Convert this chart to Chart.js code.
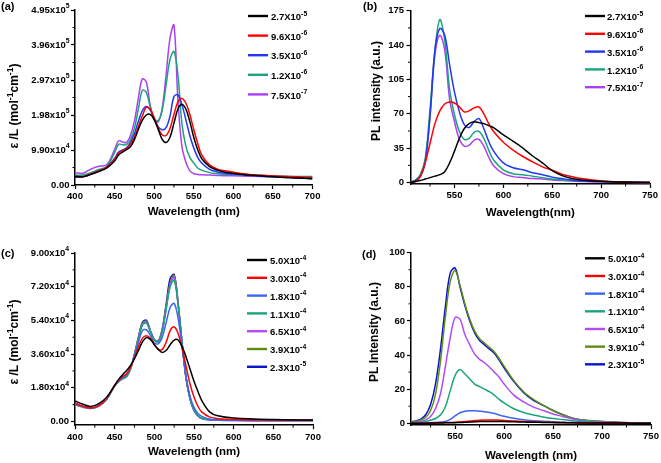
<!DOCTYPE html>
<html><head><meta charset="utf-8">
<script src="https://cdn.jsdelivr.net/npm/chart.js@4.4.1/dist/chart.umd.min.js"></script>
<style>
html,body{margin:0;padding:0;background:#fff;}
body{width:661px;height:463px;position:relative;overflow:hidden;}
canvas{position:absolute;}
</style></head><body>
<canvas id="ca" width="330" height="230" style="left:0;top:0"></canvas>
<canvas id="cb" width="331" height="230" style="left:330px;top:0"></canvas>
<canvas id="cc" width="330" height="233" style="left:0;top:230px"></canvas>
<canvas id="cd" width="331" height="233" style="left:330px;top:230px"></canvas>
<script>
// Text in {braces} is drawn as a superscript.
// ---------- Panel (a): absorption, values in 10^3 mol^-1 cm^-1 ----------
const wlA = [400,410,420,430,440,450,455,460,465,470,475,480,485,490,495,500,505,510,515,520,525,530,535,540,545,550,555,560,570,580,590,600,620,640,660,680,700];
const absA1 = [25,23,30,38,48,68,85,93,100,108,128,157,183,198,200,185,158,130,120,135,175,215,228,215,180,135,100,75,52,42,36,33,28,25,22,20,18];
const absA2 = [24,24,31,40,50,72,90,97,103,115,135,165,195,220,215,190,162,142,140,160,200,235,245,232,200,157,118,85,57,45,40,36,30,27,25,23,21];
const absA3 = [22,23,30,40,50,75,93,99,105,120,145,180,210,222,212,188,165,156,162,195,250,255,228,185,140,105,78,62,44,37,33,31,27,24,22,20,18];
const absA4 = [28,28,35,44,52,92,115,114,114,128,160,215,268,262,222,188,182,210,282,355,378,312,175,110,78,62,48,42,35,32,30,30,28,27,25,24,24];
const absA5 = [35,33,45,53,57,100,125,122,120,140,180,245,300,292,225,185,178,215,310,415,452,240,110,65,40,32,30,29,28,27,26,26,25,24,24,23,22];
const legendAB = ['2.7X10{-5}','9.6X10{-6}','3.5X10{-6}','1.2X10{-6}','7.5X10{-7}'];
const colorsAB = ['#000000','#ff0000','#2336f2','#1aa37c','#ab40f2'];
const xTicksA = [400,450,500,550,600,650,700];
const yTicksA = [0,99,198,297,396,495];
const yLabelsA = ['0.00','9.90x10{4}','1.98x10{5}','2.97x10{5}','3.96x10{5}','4.95x10{5}'];

// ---------- Panel (b): PL ----------
const wlB = [505,510,515,520,525,530,535,540,545,550,555,560,565,570,575,580,585,590,600,610,620,630,640,650,660,670,680,700,720,750];
const plB1 = [0,1,2,3.5,5,6.5,8,11,20,32,45,55,60,62,61,60,58,56,48.5,42,35,27,20,12,7,4,2.5,1.2,0.5,0];
const plB2 = [0,1,6,20,40,60,73,80,82,81,77,72,73,76,77,70,60,52,41,33,26.5,21,16,12.5,8.5,6,4,1.5,0.5,0];
const plB3 = [0.5,2,6,20,68,135,157,150,120,92,72,59,56,62,65,55,42,32,20,15,13,10,8,5.5,4,2.5,1.5,1,0.5,0];
const plB4 = [0.5,2.5,8,24,75,135,166,145,95,69,52,44,45,51,52,45,33,23,13,9,8,6.5,5,3.5,2.5,2,1.5,1,0.5,0];
const plB5 = [0.5,2,7,22,68,130,150,135,85,62,44,37,38,43,44,37,26,17,9,6,5,4,3.5,2.5,2,1.5,1,0.5,0.3,0];
const xTicksB = [550,600,650,700,750];
const yTicksB = [0,35,70,105,140,175];
const yLabelsB = ['0','35','70','105','140','175'];

// ---------- Panel (c): absorption, values in 10^4 ----------
const wlC = [400,410,420,430,440,450,455,460,465,470,475,480,485,490,495,500,505,510,515,520,525,530,535,540,545,550,555,560,570,580,600,650,700];
const absC1 = [1.09,0.92,0.8,0.95,1.3,1.93,2.25,2.5,2.72,3.0,3.35,3.8,4.25,4.48,4.38,4.1,3.85,3.68,3.8,4.1,4.35,4.35,4.0,3.45,2.8,2.15,1.6,1.1,0.5,0.3,0.18,0.1,0.08];
const absC2 = [0.98,0.82,0.72,0.85,1.25,1.93,2.2,2.4,2.55,2.9,3.4,4.0,4.45,4.58,4.45,4.12,3.85,3.85,4.25,4.85,5.05,4.7,3.9,2.95,2.0,1.3,0.8,0.5,0.23,0.15,0.1,0.08,0.06];
const absC3 = [0.95,0.8,0.72,0.85,1.22,1.93,2.2,2.35,2.5,2.9,3.5,4.25,4.85,4.9,4.6,4.2,4.15,4.5,5.3,6.1,6.3,5.5,4.0,2.4,1.35,0.75,0.42,0.27,0.12,0.08,0.06,0.05,0.05];
const absC4 = [0.93,0.78,0.7,0.83,1.2,1.9,2.15,2.3,2.4,2.8,3.55,4.4,5.15,5.25,4.8,4.35,4.25,4.8,6.0,7.2,7.55,6.2,4.2,2.35,1.25,0.62,0.32,0.17,0.1,0.07,0.06,0.05,0.05];
const absC5 = [0.92,0.77,0.7,0.82,1.2,1.9,2.13,2.28,2.4,2.8,3.57,4.45,5.2,5.3,4.82,4.37,4.27,4.85,6.1,7.3,7.7,6.25,4.2,2.33,1.23,0.6,0.31,0.16,0.09,0.07,0.06,0.05,0.05];
const absC6 = [0.9,0.76,0.69,0.82,1.2,1.9,2.13,2.28,2.4,2.82,3.6,4.5,5.25,5.35,4.85,4.38,4.28,4.9,6.2,7.4,7.8,6.3,4.2,2.32,1.22,0.6,0.3,0.16,0.09,0.07,0.06,0.05,0.05];
const absC7 = [0.98,0.8,0.72,0.85,1.2,1.93,2.15,2.3,2.42,2.85,3.6,4.5,5.3,5.4,4.85,4.37,4.3,4.95,6.3,7.65,7.85,6.3,4.15,2.3,1.2,0.58,0.3,0.15,0.09,0.06,0.05,0.05,0.05];
const legendCD = ['5.0X10{-4}','3.0X10{-4}','1.8X10{-4}','1.1X10{-4}','6.5X10{-4}','3.9X10{-4}','2.3X10{-5}'];
const colorsCD = ['#000000','#ff0000','#3a66f2','#1aa37c','#b24cf5','#5e8c14','#0a14cc'];
const xTicksC = [400,450,500,550,600,650,700];
const yTicksC = [0,1.8,3.6,5.4,7.2,9.0];
const yLabelsC = ['0.00','1.80x10{4}','3.60x10{4}','5.40x10{4}','7.20x10{4}','9.00x10{4}'];

// ---------- Panel (d): PL ----------
const wlD = [505,510,515,520,525,530,535,540,545,550,555,560,565,570,575,580,585,590,595,600,610,620,630,640,650,660,670,680,700,720,750];
const plD1 = [0,0,0,0.05,0.1,0.15,0.2,0.25,0.3,0.35,0.45,0.6,0.75,0.9,1.0,1.1,1.1,1.1,1.05,1.0,0.85,0.7,0.6,0.5,0.4,0.3,0.25,0.2,0.15,0.1,0];
const plD2 = [0,0,0.05,0.1,0.15,0.2,0.3,0.4,0.5,0.6,0.8,1.0,1.3,1.6,1.8,1.95,2.0,1.95,1.85,1.7,1.4,1.1,0.85,0.65,0.5,0.4,0.3,0.25,0.15,0.1,0];
const plD3 = [0.1,0.1,0.15,0.2,0.3,0.45,0.7,1.1,2.3,4.3,6.2,7.1,7.4,7.35,7.1,6.8,6.3,5.7,4.9,4.1,2.9,2.1,1.55,1.15,0.85,0.6,0.45,0.35,0.2,0.1,0.05];
const plD4 = [0.2,0.3,0.6,1,1.8,2.8,4.8,9.5,19,28,31.5,29,26,23,21.5,20,18.5,16.5,14,12,8.5,6.3,4.8,3.7,2.8,2.2,1.5,1,0.5,0.3,0.1];
const plD5 = [0.3,0.6,1.2,2,4,8.5,17,33,50,62,61,52,46,40.5,37.5,35.5,33,30,27,23,16.5,12.5,9.5,7.5,5.5,4,2.5,1.5,0.7,0.3,0.1];
const plD6 = [0.7,1.1,2,3.5,7.5,17,36,62,83,89.5,81,70,61,54,49.5,47,44.5,42,38,33.5,25,18.5,14,10.5,7.5,5,3,2,1,0.5,0.2];
const plD7 = [0.8,1.4,2.5,5,11,23,43,68,88,91,80,69,60,53,48.5,46,43.5,41,37,32.5,24.5,18,13.5,10.5,7.5,5,3,2,1,0.5,0.2];
const xTicksD = [550,600,650,700,750];
const yTicksD = [0,20,40,60,80,100];
const yLabelsD = ['0','20','40','60','80','100'];

const FF = '"Liberation Sans", Arial, Helvetica, sans-serif';

function parseRich(str) {
  const segs = [];
  const re = /\{([^}]*)\}/g;
  let last = 0, m;
  while ((m = re.exec(str)) !== null) {
    if (m.index > last) segs.push({t: str.slice(last, m.index), sup: false});
    segs.push({t: m[1], sup: true});
    last = re.lastIndex;
  }
  if (last < str.length) segs.push({t: str.slice(last), sup: false});
  return segs;
}
function richFont(size, sup) { return 'bold ' + (sup ? size * 0.72 : size) + 'px ' + FF; }
function richWidth(ctx, str, size) {
  let w = 0;
  parseRich(str).forEach(s => { ctx.font = richFont(size, s.sup); w += ctx.measureText(s.t).width; });
  return w;
}
// align: 'left' | 'right' | 'center'; y is the middle of the base text
function drawRich(ctx, str, size, x, y, align) {
  const w = richWidth(ctx, str, size);
  let cx = align === 'right' ? x - w : align === 'center' ? x - w / 2 : x;
  ctx.textAlign = 'left'; ctx.textBaseline = 'middle';
  parseRich(str).forEach(s => {
    ctx.font = richFont(size, s.sup);
    ctx.fillText(s.t, cx, s.sup ? y - size * 0.4 : y);
    cx += ctx.measureText(s.t).width;
  });
}
const hasRich = s => s.indexOf('{') >= 0;

function minorsOf(ticks, lo, hi) {
  const out = [];
  const step = ticks[1] - ticks[0];
  const first = ticks[0] - step / 2;
  if (first >= lo) out.push(first);
  for (let i = 0; i < ticks.length - 1; i++) out.push((ticks[i] + ticks[i + 1]) / 2);
  const last = ticks[ticks.length - 1] + step / 2;
  if (last <= hi) out.push(last);
  return out;
}

function build(id, P) {
  const cv = document.getElementById(id);
  const W = cv.width, H = cv.height;
  const TS = 9.5;
  const datasets = P.series.map((s, i) => ({
    label: P.labels[i].replace(/[{}]/g, ''),
    data: s.map((v, j) => ({x: P.x[j], y: v})),
    borderColor: P.colors[i], backgroundColor: P.colors[i],
    borderWidth: 1.5, pointRadius: 0, tension: 0.35, fill: false
  }));
  const tickFont = {family: FF, size: TS, weight: 'bold'};
  const decor = {
    id: 'decor_' + id,
    afterDraw(chart) {
      const ctx = chart.ctx, ca = chart.chartArea;
      const xs = chart.scales.x, ys = chart.scales.y;
      ctx.save();
      ctx.strokeStyle = '#000'; ctx.lineWidth = 1;
      ctx.beginPath();
      minorsOf(P.xTicks, P.xMin, P.xMax).forEach(v => {
        const px = xs.getPixelForValue(v);
        ctx.moveTo(px, ca.bottom); ctx.lineTo(px, ca.bottom + 2.5);
      });
      minorsOf(P.yTicks, P.yMin, P.yMax).forEach(v => {
        const py = ys.getPixelForValue(v);
        ctx.moveTo(ca.left, py); ctx.lineTo(ca.left - 2.5, py);
      });
      ctx.stroke();
      ctx.fillStyle = '#000';
      // y tick labels with superscripts
      P.yTicks.forEach((v, i) => {
        if (hasRich(P.yLabels[i])) drawRich(ctx, P.yLabels[i], TS, ca.left - 4 - P.yPad, ys.getPixelForValue(v), 'right');
      });
      // legend
      P.labels.forEach((lab, i) => {
        const y = P.leg.y0 + i * P.leg.dy;
        ctx.strokeStyle = P.colors[i]; ctx.lineWidth = 2.4;
        ctx.beginPath(); ctx.moveTo(P.leg.x1, y); ctx.lineTo(P.leg.x2, y); ctx.stroke();
        ctx.fillStyle = '#000';
        drawRich(ctx, lab, 9.5, P.leg.tx, y + 1.5, 'left');
      });
      // panel tag
      ctx.fillStyle = '#000';
      ctx.font = 'bold 11px ' + FF;
      ctx.textAlign = 'left'; ctx.textBaseline = 'middle';
      ctx.fillText(P.tag, P.tagX, P.tagY);
      // y title
      ctx.translate(P.yt.x, P.yt.y);
      ctx.rotate(-Math.PI / 2);
      drawRich(ctx, P.yTitle, P.yt.size, 0, 0, 'center');
      ctx.restore();
    }
  };
  new Chart(cv, {
    type: 'line',
    data: {datasets},
    options: {
      responsive: false, animation: false, events: [],
      layout: {padding: {left: 0, top: P.area.top, right: W - P.area.right, bottom: 0}},
      plugins: {legend: {display: false}, tooltip: {enabled: false}},
      scales: {
        x: {
          type: 'linear', min: P.xMin, max: P.xMax,
          afterFit: s => { s.height = H - P.area.bottom; },
          afterBuildTicks: s => { s.ticks = P.xTicks.map(v => ({value: v})); },
          ticks: {callback: v => String(v), font: tickFont, color: '#000', padding: P.xPad, maxRotation: 0, autoSkip: false},
          grid: {drawOnChartArea: false, drawTicks: true, tickLength: 4, tickColor: '#000', tickWidth: 1.2},
          border: {display: true, color: '#000', width: 1.5},
          title: {display: true, text: P.xTitle, color: '#000', font: {family: FF, size: 11.5, weight: 'bold'}, padding: {top: 0, bottom: P.xtPad}}
        },
        y: {
          type: 'linear', min: P.yMin, max: P.yMax,
          afterFit: s => { s.width = P.area.left; },
          afterBuildTicks: s => { s.ticks = P.yTicks.map(v => ({value: v})); },
          ticks: {callback: (v, i) => hasRich(P.yLabels[i]) ? '' : P.yLabels[i], font: tickFont, color: '#000', padding: P.yPad, autoSkip: false},
          grid: {drawOnChartArea: false, drawTicks: true, tickLength: 4, tickColor: '#000', tickWidth: 1.2},
          border: {display: true, color: '#000', width: 1.5},
          title: {display: false}
        }
      }
    },
    plugins: [decor]
  });
}

build('ca', {
  x: wlA, series: [absA1, absA2, absA3, absA4, absA5], labels: legendAB, colors: colorsAB,
  xMin: 400, xMax: 700, yMin: 0, yMax: 495, xTicks: xTicksA, yTicks: yTicksA, yLabels: yLabelsA,
  area: {left: 75, top: 10, right: 312.5, bottom: 185}, xPad: 1.5, yPad: 1.5, xtPad: 11,
  xTitle: 'Wavelength (nm)', yTitle: 'ε /L (mol{-1}cm{-1})', yt: {x: 15, y: 106, size: 12},
  leg: {x1: 248, x2: 268, tx: 271, y0: 16, dy: 19.6}, tag: '(a)', tagX: 1, tagY: 7
});
build('cb', {
  x: wlB, series: [plB1, plB2, plB3, plB4, plB5], labels: legendAB, colors: colorsAB,
  xMin: 505, xMax: 750, yMin: -1.5, yMax: 175, xTicks: xTicksB, yTicks: yTicksB, yLabels: yLabelsB,
  area: {left: 80.5, top: 10.7, right: 320, bottom: 184}, xPad: 2, yPad: 2.5, xtPad: 10,
  xTitle: 'Wavelength(nm)', yTitle: 'PL intensity (a.u.)', yt: {x: 46.7, y: 91, size: 12},
  leg: {x1: 255, x2: 275, tx: 277, y0: 16, dy: 17.8}, tag: '(b)', tagX: 33, tagY: 7
});
build('cc', {
  x: wlC, series: [absC1, absC2, absC3, absC4, absC5, absC6, absC7], labels: legendCD, colors: colorsCD,
  xMin: 400, xMax: 700, yMin: -0.2, yMax: 9.0, xTicks: xTicksC, yTicks: yTicksC, yLabels: yLabelsC,
  area: {left: 75, top: 23, right: 313, bottom: 195.2}, xPad: 2, yPad: 2, xtPad: 4.4,
  xTitle: 'Wavelength (nm)', yTitle: 'ε /L (mol{-1}cm{-1})', yt: {x: 15, y: 112, size: 12},
  leg: {x1: 247, x2: 267, tx: 270, y0: 30, dy: 17.8}, tag: '(c)', tagX: 1, tagY: 24
});
build('cd', {
  x: wlD, series: [plD1, plD2, plD3, plD4, plD5, plD6, plD7], labels: legendCD, colors: colorsCD,
  xMin: 505, xMax: 750, yMin: -1, yMax: 100, xTicks: xTicksD, yTicks: yTicksD, yLabels: yLabelsD,
  area: {left: 81, top: 22.7, right: 321, bottom: 195}, xPad: 2, yPad: 2, xtPad: 0,
  xTitle: 'Wavelength (nm)', yTitle: 'PL Intensity (a.u.)', yt: {x: 45, y: 102, size: 12},
  leg: {x1: 255, x2: 275, tx: 278, y0: 28.3, dy: 17.67}, tag: '(d)', tagX: 32, tagY: 25
});
</script>
</body></html>
